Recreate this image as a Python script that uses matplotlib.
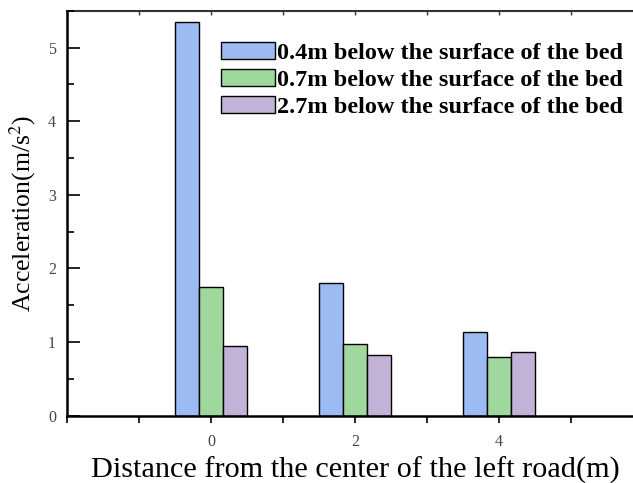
import matplotlib.pyplot as plt
from matplotlib.ticker import MultipleLocator, FixedLocator
import numpy as np

plt.rcParams['font.family'] = ['Liberation Serif', 'DejaVu Serif']
plt.rcParams['mathtext.fontset'] = 'stix'

positions = [0, 2, 4]
series_labels = ["0.4m below the surface of the bed",
                 "0.7m below the surface of the bed",
                 "2.7m below the surface of the bed"]
depth_04 = [5.34, 1.80, 1.14]
depth_07 = [1.75, 0.97, 0.80]
depth_27 = [0.94, 0.83, 0.86]
colors = ["#9bbbf2", "#9fd89c", "#c3b2d7"]

fig = plt.figure(figsize=(6.33, 4.83), dpi=100)
ax = fig.add_axes([67 / 633, 67.3 / 483, 576 / 633, 405 / 483])

w = 0.33
x = np.array(positions, dtype=float)
for i, (vals, lab, c) in enumerate(zip([depth_04, depth_07, depth_27], series_labels, colors)):
    ax.bar(x + (i - 1) * w, vals, width=w, color=c, edgecolor="black", linewidth=1.0, label=lab)

ax.set_xlim(-2, 6)
ax.set_ylim(0, 5.5)

ax.xaxis.set_major_locator(FixedLocator([0, 2, 4]))
ax.xaxis.set_minor_locator(FixedLocator([-2, -1, 1, 3, 5, 6]))
ax.yaxis.set_major_locator(MultipleLocator(1))
ax.yaxis.set_minor_locator(MultipleLocator(0.5))

ax.tick_params(axis='x', which='both', direction='out', length=5, width=1.2,
               labelsize=11.5, labelcolor="#444444", pad=8)
ax.tick_params(axis='y', which='major', direction='in', length=9, width=1.2,
               labelsize=11.5, labelcolor="#444444", pad=8)
ax.tick_params(axis='y', which='minor', direction='in', length=5, width=1.2)

# short inward ticks on the top spine
top = ax.secondary_xaxis('top')
top.set_xticks(np.arange(-2, 7, 1))
top.tick_params(direction='in', length=3, width=1.0, labeltop=False, color="#333333")
top.spines['top'].set_linewidth(1.5)
top.spines['top'].set_color("#333333")

for s in ax.spines.values():
    s.set_linewidth(1.8)
ax.spines['top'].set_visible(False)

ax.set_xlabel("Distance from the center of the left road(m)", fontsize=21.8, labelpad=5)
ax.set_ylabel("Acceleration(m/s$^2$)", fontsize=18.5, labelpad=7)

leg = ax.legend(loc='upper left', bbox_to_anchor=(209 / 633, 1 - 30 / 483),
                bbox_transform=fig.transFigure, frameon=False, borderpad=0,
                handlelength=2.22, handleheight=0.66, labelspacing=0.22, handletextpad=0.08,
                prop={'weight': 'bold', 'size': 17.5})

fig.savefig("out.png", dpi=100)
